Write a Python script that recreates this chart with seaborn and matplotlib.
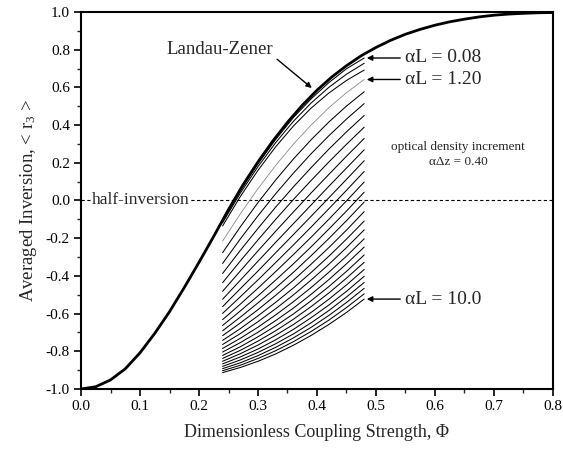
import numpy as np
import pandas as pd
import matplotlib
matplotlib.use("Agg")
import matplotlib.pyplot as plt
import seaborn as sns

# Landau-Zener inversion versus coupling strength
lz_phi = [0.000, 0.025, 0.050, 0.075, 0.100, 0.125, 0.150, 0.175, 0.200, 0.225,
          0.250, 0.275, 0.300, 0.325, 0.350, 0.375, 0.400, 0.425, 0.450, 0.475,
          0.500, 0.525, 0.550, 0.575, 0.600, 0.625, 0.650, 0.675, 0.700, 0.725,
          0.750, 0.775, 0.800]
lz_r3 = [-1.000, -0.988, -0.952, -0.893, -0.808, -0.705, -0.590, -0.462, -0.328, -0.190,
         -0.048, 0.085, 0.205, 0.315, 0.415, 0.505, 0.585, 0.655, 0.715, 0.768,
         0.812, 0.850, 0.882, 0.908, 0.930, 0.948, 0.962, 0.974, 0.983, 0.989,
         0.993, 0.996, 0.997]

# Averaged inversion for increasing optical length alpha*L (one entry per curve,
# top curve first); each list holds the curves' values at one coupling strength
family_phi = [0.24, 0.27, 0.30, 0.33, 0.36, 0.39, 0.42, 0.45, 0.48]
fam_024 = [-0.108, -0.118, -0.135, -0.215, -0.277, -0.334, -0.387, -0.436, -0.482, -0.524,
           -0.563, -0.599, -0.632, -0.663, -0.691, -0.717, -0.742, -0.764, -0.785, -0.804,
           -0.822, -0.838, -0.853, -0.867, -0.880, -0.892, -0.903, -0.913]
fam_027 = [0.052, 0.039, 0.021, -0.071, -0.140, -0.204, -0.265, -0.321, -0.374, -0.423,
           -0.468, -0.511, -0.550, -0.586, -0.619, -0.650, -0.680, -0.706, -0.731, -0.754,
           -0.776, -0.795, -0.813, -0.830, -0.846, -0.861, -0.874, -0.886]
fam_030 = [0.195, 0.180, 0.160, 0.063, -0.011, -0.081, -0.148, -0.209, -0.267, -0.322,
           -0.374, -0.421, -0.465, -0.506, -0.543, -0.579, -0.612, -0.643, -0.672, -0.699,
           -0.723, -0.746, -0.767, -0.788, -0.806, -0.823, -0.838, -0.853]
fam_033 = [0.324, 0.307, 0.285, 0.186, 0.109, 0.036, -0.035, -0.100, -0.163, -0.222,
           -0.277, -0.329, -0.377, -0.422, -0.464, -0.503, -0.540, -0.574, -0.607, -0.637,
           -0.665, -0.691, -0.715, -0.739, -0.760, -0.779, -0.797, -0.814]
fam_036 = [0.440, 0.420, 0.395, 0.299, 0.220, 0.145, 0.072, 0.005, -0.061, -0.123,
           -0.181, -0.236, -0.287, -0.336, -0.381, -0.423, -0.464, -0.501, -0.537, -0.571,
           -0.602, -0.630, -0.658, -0.684, -0.708, -0.729, -0.749, -0.768]
fam_039 = [0.539, 0.517, 0.490, 0.400, 0.322, 0.248, 0.174, 0.106, 0.040, -0.024,
           -0.084, -0.141, -0.195, -0.246, -0.293, -0.338, -0.382, -0.422, -0.462, -0.498,
           -0.532, -0.563, -0.594, -0.622, -0.649, -0.673, -0.695, -0.716]
fam_042 = [0.625, 0.600, 0.570, 0.492, 0.416, 0.343, 0.272, 0.204, 0.138, 0.075,
           0.014, -0.044, -0.100, -0.152, -0.202, -0.250, -0.296, -0.339, -0.381, -0.420,
           -0.457, -0.491, -0.524, -0.555, -0.584, -0.610, -0.635, -0.658]
fam_045 = [0.699, 0.670, 0.637, 0.572, 0.501, 0.432, 0.364, 0.298, 0.235, 0.172,
           0.112, 0.054, -0.002, -0.056, -0.107, -0.157, -0.205, -0.250, -0.295, -0.336,
           -0.376, -0.412, -0.448, -0.482, -0.512, -0.541, -0.568, -0.594]
fam_048 = [0.756, 0.728, 0.692, 0.642, 0.577, 0.514, 0.451, 0.389, 0.329, 0.269,
           0.211, 0.154, 0.098, 0.044, -0.008, -0.059, -0.109, -0.156, -0.203, -0.247,
           -0.289, -0.328, -0.366, -0.402, -0.435, -0.466, -0.495, -0.523]

labels_aL = ["\u03b1L = 0.08", "\u03b1L = 1.20", "\u03b1L = 10.0"]
labelled_curves = [0, 3, 27]
light_curve = 3

x_ticks = [0.0, 0.1, 0.2, 0.3, 0.4, 0.5, 0.6, 0.7, 0.8]
y_ticks = [-1.0, -0.8, -0.6, -0.4, -0.2, 0.0, 0.2, 0.4, 0.6, 0.8, 1.0]

sns.set_theme(style="ticks")
plt.rcParams["font.family"] = ["Liberation Serif", "DejaVu Serif"]
plt.rcParams["mathtext.fontset"] = "custom"
plt.rcParams["mathtext.rm"] = "Liberation Serif"
plt.rcParams["mathtext.it"] = "Liberation Serif:italic"

columns = [fam_024, fam_027, fam_030, fam_033, fam_036, fam_039, fam_042, fam_045, fam_048]
rows = []
for k in range(len(fam_024)):
    for phi, col in zip(family_phi, columns):
        rows.append({"curve": k, "phi": phi, "r3": col[k]})
fam_df = pd.DataFrame(rows)
lz_df = pd.DataFrame({"phi": lz_phi, "r3": lz_r3})

fig = plt.figure(figsize=(5.63, 4.51), dpi=100)
ax = fig.add_axes([0.1439, 0.1375, 0.9822 - 0.1439, 0.9734 - 0.1375])

sns.lineplot(data=fam_df[fam_df["curve"] != light_curve], x="phi", y="r3",
             units="curve", estimator=None, color="black", linewidth=0.75,
             ax=ax, legend=False)
sns.lineplot(data=fam_df[fam_df["curve"] == light_curve], x="phi", y="r3",
             color="#8a8a8a", linewidth=0.6, ax=ax, legend=False)
sns.lineplot(data=lz_df, x="phi", y="r3", color="black", linewidth=2.0,
             ax=ax, legend=False)

# half-inversion reference line
ax.axhline(0.0, color="black", linewidth=0.8, linestyle=(0, (3, 2.2)), zorder=1)
ax.text(0.019, 0.0, "half-inversion", fontsize=12.5, ha="left", va="center",
        bbox=dict(facecolor="white", edgecolor="none", pad=1.0), zorder=3)

arrow = dict(arrowstyle="-|>", color="black", lw=1.0, mutation_scale=8,
             shrinkA=1, shrinkB=1)

ax.annotate("Landau-Zener", xy=(0.393, 0.592), xytext=(0.325, 0.80),
            fontsize=13.5, ha="right", va="center",
            arrowprops=dict(arrow, relpos=(1.0, 0.15)))

for lab, k in zip(labels_aL, labelled_curves):
    ax.annotate(lab, xy=(family_phi[-1] + 0.002, fam_048[k]),
                xytext=(0.549, fam_048[k]), fontsize=14, ha="left", va="center",
                arrowprops=dict(arrow, relpos=(0.0, 0.5)))

ax.text(0.639, 0.286, "optical density increment", fontsize=9.5,
        ha="center", va="center")
ax.text(0.639, 0.205, "\u03b1\u0394z = 0.40", fontsize=9.5, ha="center", va="center")

ax.set_xlim(0.0, 0.8)
ax.set_ylim(-1.0, 1.0)
ax.set_xticks(x_ticks)
ax.set_yticks(y_ticks)
ax.set_xticklabels([f"{v:.1f}" for v in x_ticks])
ax.set_yticklabels([f"{v:.1f}" for v in y_ticks])
ax.set_xticks(np.arange(0.05, 0.8, 0.1), minor=True)
ax.set_yticks(np.arange(-0.9, 1.0, 0.2), minor=True)
ax.tick_params(which="major", direction="out", length=5, width=1.2,
               labelsize=11, colors="black", pad=3)
ax.tick_params(which="minor", direction="out", length=3, width=1.0)
ax.tick_params(top=False, right=False)

for s in ax.spines.values():
    s.set_linewidth(1.5)
    s.set_color("black")
    s.set_visible(True)

ax.set_xlabel("Dimensionless Coupling Strength, \u03a6", fontsize=13, labelpad=8)
ax.set_ylabel("Averaged Inversion, < r$_3$ >", fontsize=13.5, labelpad=5)

fig.savefig("out.png", dpi=100, facecolor="white")
